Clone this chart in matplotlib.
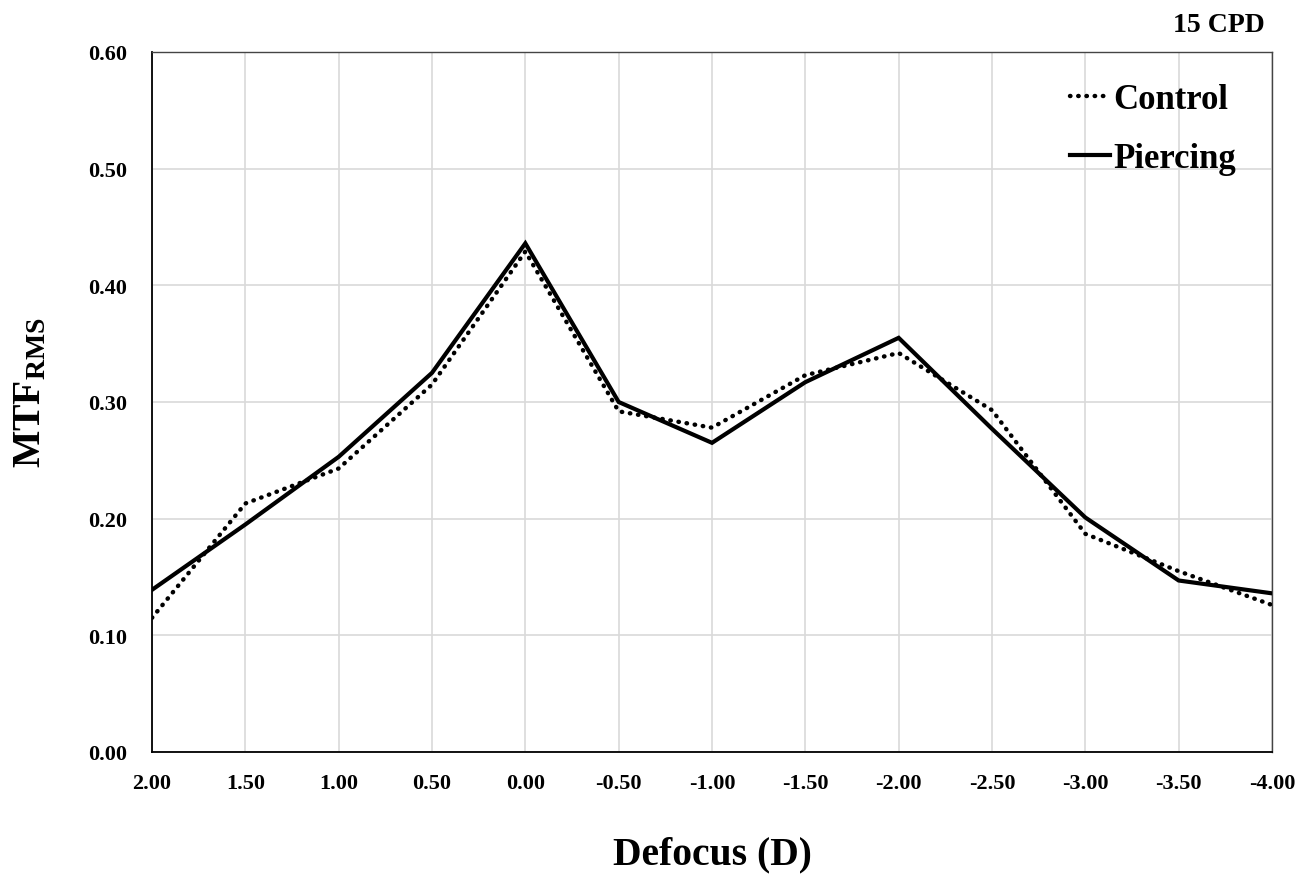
import matplotlib
matplotlib.use("Agg")
import matplotlib.pyplot as plt

plt.rcParams['font.family'] = ['Liberation Serif', 'DejaVu Serif']
plt.rcParams['font.weight'] = 'bold'
plt.rcParams['mathtext.fontset'] = 'custom'
plt.rcParams['mathtext.rm'] = 'Liberation Serif:bold'

defocus = [2.00, 1.50, 1.00, 0.50, 0.00, -0.50, -1.00, -1.50, -2.00, -2.50, -3.00, -3.50, -4.00]
control = [0.115, 0.213, 0.243, 0.315, 0.429, 0.292, 0.278, 0.323, 0.342, 0.293, 0.187, 0.155, 0.126]
piercing = [0.139, 0.195, 0.253, 0.325, 0.436, 0.300, 0.265, 0.317, 0.355, 0.277, 0.201, 0.147, 0.136]
xticks = [2.00, 1.50, 1.00, 0.50, 0.00, -0.50, -1.00, -1.50, -2.00, -2.50, -3.00, -3.50, -4.00]
yticks = [0.0, 0.1, 0.2, 0.3, 0.4, 0.5, 0.6]

fig = plt.figure(figsize=(13.08, 8.79), dpi=100)
ax = fig.add_axes([152/1308, 1-753/879, 1120/1308, 700/879])

ax.plot(defocus, control, color='black', lw=3.2, linestyle=(0, (0.1, 1.75)),
        dash_capstyle='round', label='Control', zorder=3)
ax.plot(defocus, piercing, color='black', lw=3.0, solid_joinstyle='miter',
        label='Piercing', zorder=3)

ax.set_xlim(2.0, -4.0)
ax.set_ylim(0, 0.6)
ax.set_xticks(xticks)
ax.set_xticklabels([f"{v:.2f}" for v in xticks])
ax.set_yticks(yticks)
ax.set_yticklabels([f"{v:.2f}" for v in yticks])
ax.tick_params(axis='x', length=0, pad=15, labelsize=16)
ax.tick_params(axis='y', length=0, pad=18, labelsize=16)
for lab in ax.get_xticklabels() + ax.get_yticklabels():
    lab.set_fontweight('bold')

ax.grid(True, color='#d9d9d9', lw=1.2)
ax.set_axisbelow(True)
for s in ['left', 'bottom']:
    ax.spines[s].set_color('black')
    ax.spines[s].set_linewidth(1.3)
for s in ['top', 'right']:
    ax.spines[s].set_color('#444444')
    ax.spines[s].set_linewidth(1.0)

ax.set_xlabel('Defocus (D)', fontsize=28.5, fontweight='bold', va='center')
ax.xaxis.set_label_coords(0.5, -0.146)
ax.set_ylabel(r'$\mathregular{MTF_{RMS}}$', fontsize=28.5, fontweight='bold', va='center')
ax.yaxis.set_label_coords(-0.108, 0.515)

fig.text(1265/1308, 1-25/879, '15 CPD', ha='right', va='center', fontsize=20, fontweight='bold')

leg = ax.legend(loc='upper right', frameon=False, fontsize=25, handlelength=1.15,
                handletextpad=0.1, labelspacing=0.75, bbox_to_anchor=(0.99, 0.99),
                borderaxespad=0.3)
for t in leg.get_texts():
    t.set_fontweight('bold')

fig.savefig('out.png', dpi=100, facecolor='white')
